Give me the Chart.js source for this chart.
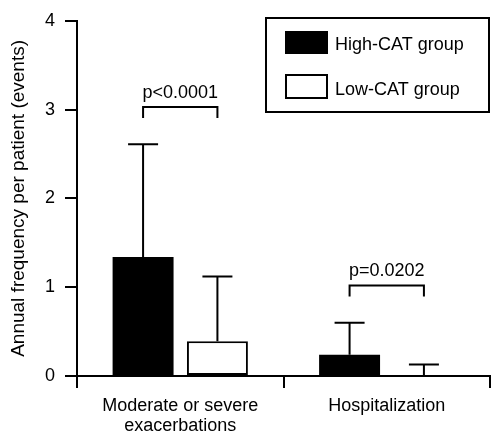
<!DOCTYPE html>
<html>
<head>
<meta charset="utf-8">
<script src="https://cdn.jsdelivr.net/npm/chart.js@4/dist/chart.umd.min.js"></script>
<style>
  body { margin: 0; background: #fff; }
  canvas { display: block; }
</style>
</head>
<body>
<canvas id="freqChart" width="491" height="437"></canvas>
<script>
const categories = [['Moderate or severe', 'exacerbations'], 'Hospitalization'];
const seriesNames = ['High-CAT group', 'Low-CAT group'];
const highCat = [1.34, 0.24];
const lowCat = [0.39, 0.01];
// upper error bar length (SD)
const highCatErr = [1.27, 0.36];
const lowCatErr = [0.73, 0.12];
const pLabels = ['p<0.0001', 'p=0.0202'];
const pBracketAt = [3.03, 1.02];
const yTicks = [0, 1, 2, 3, 4];

Chart.defaults.font.family = "'Liberation Sans', Arial, sans-serif";
Chart.defaults.font.size = 18;
Chart.defaults.color = '#000';

// error bars + significance brackets
const annotations = {
  id: 'annotations',
  afterDatasetsDraw(chart) {
    const ctx = chart.ctx;
    const y = chart.scales.y;
    const errs = [highCatErr, lowCatErr];
    ctx.save();
    ctx.strokeStyle = '#000';
    ctx.lineWidth = 2;
    chart.data.datasets.forEach((ds, i) => {
      chart.getDatasetMeta(i).data.forEach((bar, j) => {
        const top = y.getPixelForValue(ds.data[j] + errs[i][j]);
        ctx.beginPath();
        ctx.moveTo(bar.x, bar.y);
        ctx.lineTo(bar.x, top);
        ctx.moveTo(bar.x - 15, top);
        ctx.lineTo(bar.x + 15, top);
        ctx.stroke();
      });
    });

    const m0 = chart.getDatasetMeta(0).data;
    const m1 = chart.getDatasetMeta(1).data;
    ctx.font = "18px 'Liberation Sans', Arial, sans-serif";
    ctx.fillStyle = '#000';
    ctx.textAlign = 'center';
    ctx.textBaseline = 'alphabetic';
    pLabels.forEach((txt, j) => {
      const x1 = m0[j].x, x2 = m1[j].x;
      const yy = y.getPixelForValue(pBracketAt[j]);
      ctx.beginPath();
      ctx.moveTo(x1, yy + 11);
      ctx.lineTo(x1, yy);
      ctx.lineTo(x2, yy);
      ctx.lineTo(x2, yy + 11);
      ctx.stroke();
      ctx.fillText(txt, (x1 + x2) / 2, yy - 9);
    });
    ctx.restore();
  }
};

// boxed legend in the upper right
const boxLegend = {
  id: 'boxLegend',
  afterDraw(chart) {
    const ctx = chart.ctx;
    ctx.save();
    ctx.fillStyle = '#fff';
    ctx.fillRect(266, 18, 223, 94);
    ctx.strokeStyle = '#000';
    ctx.lineWidth = 2;
    ctx.strokeRect(266, 18, 223, 94);
    ctx.fillStyle = '#000';
    ctx.fillRect(285, 31, 43, 23);
    ctx.strokeRect(286, 75, 41, 23);
    ctx.font = "18px 'Liberation Sans', Arial, sans-serif";
    ctx.textAlign = 'left';
    ctx.textBaseline = 'alphabetic';
    ctx.fillText(seriesNames[0], 335, 50);
    ctx.fillText(seriesNames[1], 335, 95);
    ctx.restore();
  }
};

const data = {
  labels: categories,
  datasets: [{
    label: seriesNames[0],
    data: highCat,
    backgroundColor: '#000',
    borderColor: '#000',
    borderWidth: 0
  }, {
    label: seriesNames[1],
    data: lowCat,
    backgroundColor: '#fff',
    borderColor: '#000',
    borderWidth: 2,
    borderSkipped: false
  }]
};

const config = {
  type: 'bar',
  data: data,
  options: {
    responsive: false,
    animation: false,
    events: [],
    layout: { padding: { top: 20, right: 1, left: 0, bottom: 0 } },
    categoryPercentage: 0.72,
    barPercentage: 0.82,
    plugins: {
      legend: { display: false },
      tooltip: { enabled: false }
    },
    scales: {
      x: {
        offset: true,
        grid: {
          offset: true,
          drawOnChartArea: false,
          drawTicks: true,
          tickLength: 12,
          color: '#000',
          lineWidth: 2
        },
        border: { display: true, color: '#000', width: 2 },
        ticks: { padding: 8, maxRotation: 0, font: { size: 18, lineHeight: 1.12 } },
        afterFit(axis) { axis.height = 61; }
      },
      y: {
        min: 0,
        max: 4,
        afterBuildTicks(axis) { axis.ticks = yTicks.map(v => ({ value: v })); },
        grid: {
          drawOnChartArea: false,
          drawTicks: true,
          tickLength: 12,
          color: '#000',
          lineWidth: 2
        },
        border: { display: true, color: '#000', width: 2 },
        ticks: { padding: 10, font: { size: 18 } },
        title: {
          display: true,
          text: 'Annual frequency per patient (events)',
          font: { size: 19 },
          padding: { top: 7, bottom: 0 }
        },
        afterFit(axis) { axis.width = 77; }
      }
    }
  },
  plugins: [annotations, boxLegend]
};

const freqChart = new Chart(document.getElementById('freqChart'), config);
</script>
</body>
</html>
